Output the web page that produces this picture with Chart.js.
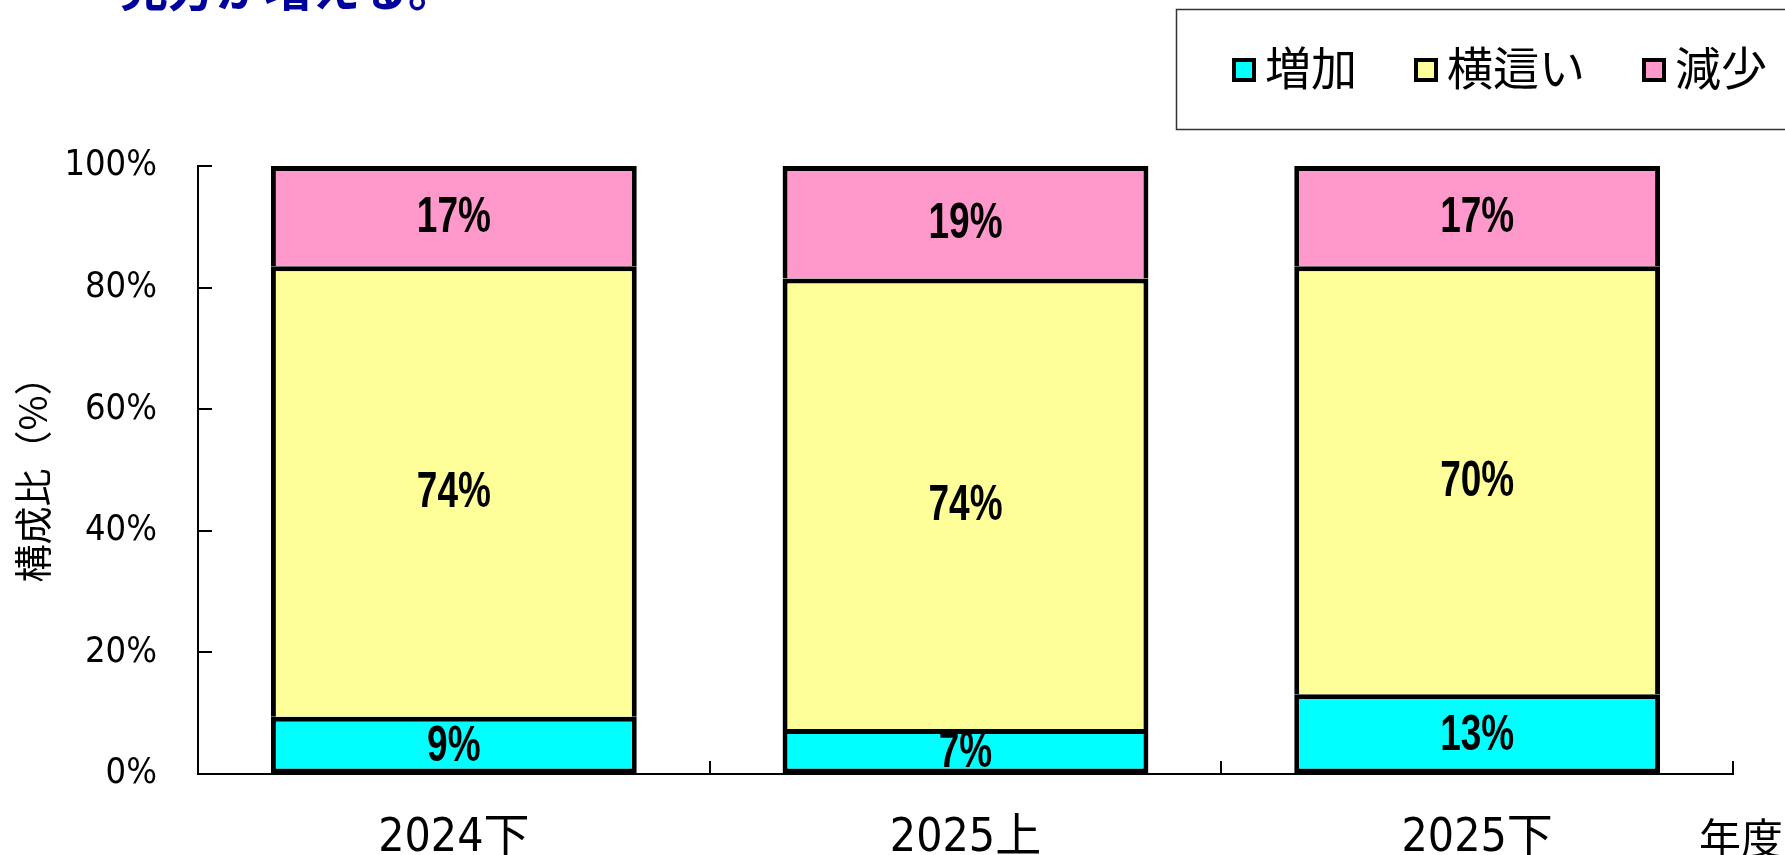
<!DOCTYPE html>
<html>
<head>
<meta charset="utf-8">
<script src="https://cdn.jsdelivr.net/npm/chart.js@4.4.1/dist/chart.umd.min.js"></script>
<style>
  html, body { margin: 0; padding: 0; background: #fff; }
  canvas { display: block; }
</style>
</head>
<body>
<canvas id="c" width="1785" height="855"></canvas>
<script>
// ---- data ----
const categories = ['2024下', '2025上', '2025下'];
const seriesNames = ['増加', '横這い', '減少'];
const increase = [9.4, 7.4, 13.1];
const flat = [74.1, 74.1, 70.4];
const decrease = [16.5, 18.5, 16.5];
const yTickStep = 20;
const yAxisTitle = '構成比（%）';
const xAxisUnit = '年度';
const headline = '見方が増える。';

const colors = ['#00FFFF', '#FFFF99', '#FF99CC'];
const condFont = '"DejaVu Sans Condensed", "Noto Sans CJK JP", sans-serif';
const cjkFont = '"Noto Sans CJK JP", sans-serif';

const whiteBg = {
  id: 'whiteBg',
  beforeDraw(chart) {
    const ctx = chart.ctx;
    ctx.save();
    ctx.fillStyle = '#fff';
    ctx.fillRect(0, 0, chart.width, chart.height);
    ctx.restore();
  }
};

const extras = {
  id: 'extras',
  afterDraw(chart) {
    const ctx = chart.ctx;
    const xs = chart.scales.x, ys = chart.scales.y;
    ctx.save();
    // inward tick marks
    ctx.strokeStyle = '#000';
    ctx.lineWidth = 2;
    ys.ticks.forEach(t => {
      const py = Math.round(ys.getPixelForValue(t.value));
      ctx.beginPath();
      ctx.moveTo(ys.right, py);
      ctx.lineTo(ys.right + 14, py);
      ctx.stroke();
    });
    for (let i = 0; i <= categories.length; i++) {
      const px = Math.round(xs.getPixelForValue(i - 0.5));
      ctx.beginPath();
      ctx.moveTo(px, xs.top);
      ctx.lineTo(px, xs.top - 13);
      ctx.stroke();
    }
    // value labels inside the segments (condensed bold)
    ctx.fillStyle = '#000';
    ctx.font = 'bold 50px "Liberation Sans", Arial, sans-serif';
    ctx.textAlign = 'center';
    ctx.textBaseline = 'middle';
    chart.data.datasets.forEach((ds, di) => {
      const meta = chart.getDatasetMeta(di);
      meta.data.forEach((bar, i) => {
        const v = ds.data[i];
        ctx.save();
        ctx.translate(bar.x, (bar.y + bar.base) / 2 + 2);
        ctx.scale(0.74, 1);
        ctx.fillText(Math.round(v) + '%', 0, 0);
        ctx.restore();
      });
    });
    // unit label on the x axis
    ctx.font = '42px ' + cjkFont;
    ctx.textAlign = 'left';
    ctx.fillText(xAxisUnit, xs.right - 34, 838);
    // headline fragment at top
    ctx.fillStyle = '#00009C';
    ctx.font = 'bold 48px ' + cjkFont;
    ctx.textBaseline = 'alphabetic';
    ctx.fillText(headline, 120, 6);
    // legend frame & items
    ctx.strokeStyle = '#333';
    ctx.lineWidth = 1.5;
    ctx.strokeRect(1176.5, 9.5, 640, 120);
    ctx.font = '46px ' + cjkFont;
    ctx.textBaseline = 'middle';
    let lx = 1232;
    const cy = 70;
    chart.data.datasets.forEach((ds, di) => {
      ctx.fillStyle = '#000';
      ctx.fillRect(lx, cy - 12, 24, 24);
      ctx.fillStyle = ds.backgroundColor;
      ctx.fillRect(lx + 4, cy - 8, 16, 16);
      ctx.fillStyle = '#000';
      const tx = lx + 33;
      ctx.fillText(ds.label, tx, cy - 2);
      lx = tx + ctx.measureText(ds.label).width + 57;
    });
    ctx.restore();
  }
};

function mk(label, data, color, skip) {
  return {
    label, data,
    backgroundColor: color,
    borderColor: '#000',
    borderWidth: 5,
    borderSkipped: skip,
    categoryPercentage: 1.0,
    barPercentage: 0.715
  };
}

new Chart(document.getElementById('c'), {
  type: 'bar',
  data: {
    labels: categories,
    datasets: [
      mk(seriesNames[0], increase, colors[0], false),
      mk(seriesNames[1], flat, colors[1], 'start'),
      mk(seriesNames[2], decrease, colors[2], 'start')
    ]
  },
  options: {
    responsive: false,
    animation: false,
    layout: { padding: { top: 166, right: 52, left: 0, bottom: 0 } },
    plugins: { legend: { display: false }, tooltip: { enabled: false }, title: { display: false } },
    scales: {
      x: {
        stacked: true,
        grid: { display: true, drawOnChartArea: false, drawTicks: false, color: 'rgba(0,0,0,0)' },
        border: { display: true, color: '#000', width: 2 },
        ticks: {
          color: '#000', padding: 37, maxRotation: 0, autoSkip: false,
          font: { family: condFont, size: 46 }
        },
        afterFit(scale) { scale.height = 81; }
      },
      y: {
        stacked: true,
        min: 0, max: 100,
        grid: { display: true, drawOnChartArea: false, drawTicks: false, color: 'rgba(0,0,0,0)' },
        border: { display: true, color: '#000', width: 2 },
        ticks: {
          stepSize: yTickStep, color: '#000', padding: 41,
          font: { family: condFont, size: 36 },
          callback: v => v + '%'
        },
        title: {
          display: true, text: yAxisTitle, color: '#000',
          font: { family: cjkFont, size: 38 },
          padding: { top: 10, bottom: 0 }
        },
        afterFit(scale) { scale.width = 198; }
      }
    }
  },
  plugins: [whiteBg, extras]
});
</script>
</body>
</html>
